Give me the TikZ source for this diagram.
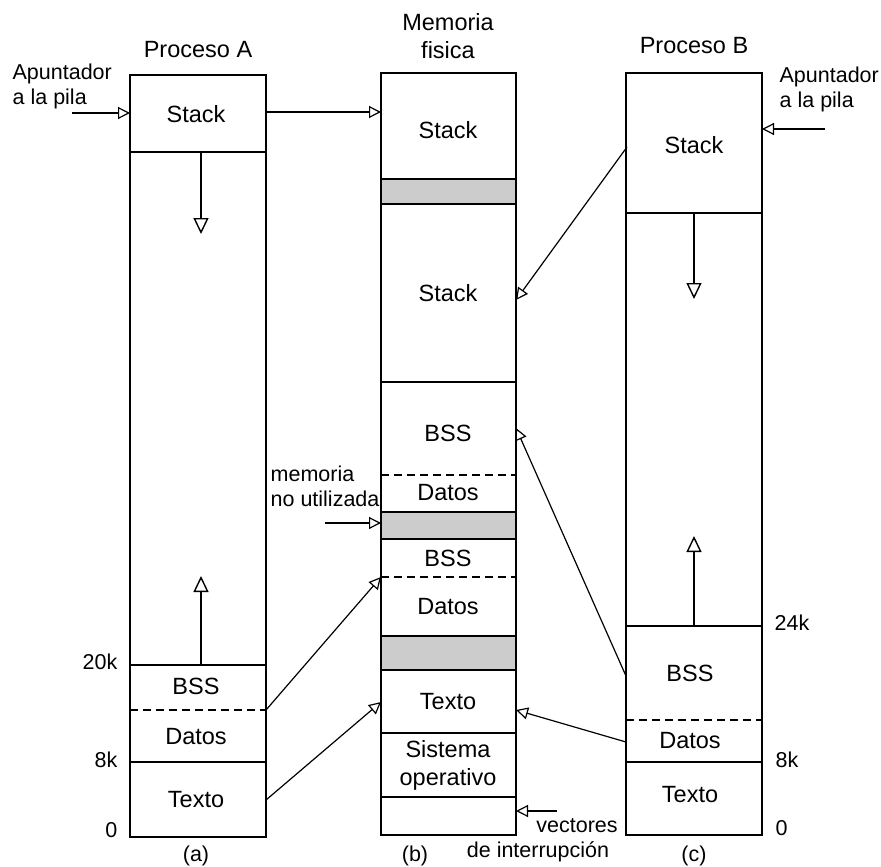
\documentclass[tikz,border=0pt]{standalone}
\usepackage{fontspec}
\setmainfont{Liberation Sans}
\usetikzlibrary{arrows.meta}
\begin{document}
\begin{tikzpicture}[x=1pt,y=-1pt, line width=1.3pt,
  lbl/.style={font=\fontsize{23.5}{28}\selectfont, inner sep=0pt, align=center},
  sm/.style={font=\fontsize{21.5}{25}\selectfont, inner sep=0pt, align=left},
  ptr/.style={-{Triangle[open,length=12pt,width=12pt]}, line width=1.2pt},
  bigptr/.style={-{Triangle[open,length=16pt,width=15pt]}, line width=1.4pt},
  dsh/.style={dash pattern=on 8pt off 5pt},
  gap/.style={fill=black!20, draw=black}]
\useasboundingbox (0,0) rectangle (881,867);

% ---------- Column A ----------
\draw (130,75) rectangle (266,837);
\draw (130,152) -- (266,152);
\draw (130,665) -- (266,665);
\draw[dsh] (130,710) -- (266,710);
\draw (130,762) -- (266,762);
\node[lbl] (tA) at (198,50) {Proceso A};
\node[lbl] (aStack) at (196,114) {Stack};
\node[lbl] (aBSS) at (196,686) {BSS};
\node[lbl] (aDat) at (196,737) {Datos};
\node[lbl] (aTex) at (196,800) {Texto};
\node[sm] (capA) at (196,856) {(a)};
\node[sm, anchor=west] (apA) at (12,86) {Apuntador\\a la pila};
\node[sm, anchor=east] (k20) at (118,662) {20k};
\node[sm, anchor=east] (k8a) at (118,760) {8k};
\node[sm, anchor=east] (k0a) at (118,830) {0};
\coordinate (apAs) at (72,113);
\coordinate (aStackW) at (130,113);
\coordinate (aStackE) at (266,112);
\coordinate (aDown1) at (201,152);
\coordinate (aDown2) at (201,234);
\coordinate (aUp1) at (201,665);
\coordinate (aUp2) at (201,576);
\coordinate (aDash) at (266,710);
\coordinate (aTexE) at (266,800);

% ---------- Column B ----------
\draw[gap] (381,179) rectangle (516,204);
\draw[gap] (381,512) rectangle (516,539);
\draw[gap] (381,636) rectangle (516,670);
\draw (381,73) rectangle (516,835);
\draw (381,382) -- (516,382);
\draw[dsh] (381,475) -- (516,475);
\draw[dsh] (381,577) -- (516,577);
\draw (381,733) -- (516,733);
\draw (381,797) -- (516,797);
\node[lbl] (tB) at (448,36) {Memoria\\fisica};
\node[lbl] (bStack1) at (448,130) {Stack};
\node[lbl] (bStack2) at (448,293) {Stack};
\node[lbl] (bBSS1) at (448,433) {BSS};
\node[lbl] (bDat1) at (448,493) {Datos};
\node[lbl] (bBSS2) at (448,558) {BSS};
\node[lbl] (bDat2) at (448,607) {Datos};
\node[lbl] (bTex) at (448,702) {Texto};
\node[lbl] (bSO) at (448,765) {Sistema\\operativo};
\node[sm] (capB) at (415,856) {(b)};
\node[sm, anchor=west] (nu) at (270,486) {memoria\\no utilizada};
\node[sm] (vec1) at (577,826) {vectores};
\node[sm] (vec2) at (538,852) {de interrupción};
\coordinate (nuS) at (325,523);
\coordinate (nuE) at (381,523);
\coordinate (vecS) at (557,811);
\coordinate (vecE) at (516,811);
\coordinate (bStack1W) at (381,112);
\coordinate (bStack2E) at (516,300);
\coordinate (bBSS1E) at (516,428);
\coordinate (bDashW) at (381,577);
\coordinate (bTexW) at (381,702);
\coordinate (bTexE) at (516,710);

% ---------- Column C ----------
\draw (626,73) rectangle (762,835);
\draw (626,213) -- (762,213);
\draw (626,626) -- (762,626);
\draw[dsh] (626,720) -- (762,720);
\draw (626,762) -- (762,762);
\node[lbl] (tC) at (694,46) {Proceso B};
\node[lbl] (cStack) at (694,145) {Stack};
\node[lbl] (cBSS) at (690,673) {BSS};
\node[lbl] (cDat) at (690,741) {Datos};
\node[lbl] (cTex) at (690,795) {Texto};
\node[sm] (capC) at (694,856) {(c)};
\node[sm, anchor=west] (apB) at (779,89) {Apuntador\\a la pila};
\node[sm, anchor=west] (k24) at (774,623) {24k};
\node[sm, anchor=west] (k8c) at (775,760) {8k};
\node[sm, anchor=west] (k0c) at (775,828) {0};
\coordinate (apBs) at (825,129);
\coordinate (cStackE) at (762,129);
\coordinate (cStackW) at (627,147);
\coordinate (cDown1) at (694,213);
\coordinate (cDown2) at (694,299);
\coordinate (cUp1) at (694,626);
\coordinate (cUp2) at (694,536);
\coordinate (cBSSW) at (626,676);
\coordinate (cDatW) at (626,742);

% ---------- Connectors ----------
\draw[ptr] (apAs) -- (aStackW);
\draw[bigptr] (aDown1) -- (aDown2);
\draw[bigptr] (aUp1) -- (aUp2);
\draw[ptr] (aStackE) -- (bStack1W);
\draw[ptr] (aDash) -- (bDashW);
\draw[ptr] (aTexE) -- (bTexW);
\draw[ptr] (nuS) -- (nuE);
\draw[ptr] (vecS) -- (vecE);
\draw[ptr] (apBs) -- (cStackE);
\draw[bigptr] (cDown1) -- (cDown2);
\draw[bigptr] (cUp1) -- (cUp2);
\draw[ptr] (cStackW) -- (bStack2E);
\draw[ptr] (cBSSW) -- (bBSS1E);
\draw[ptr] (cDatW) -- (bTexE);
\end{tikzpicture}
\end{document}
